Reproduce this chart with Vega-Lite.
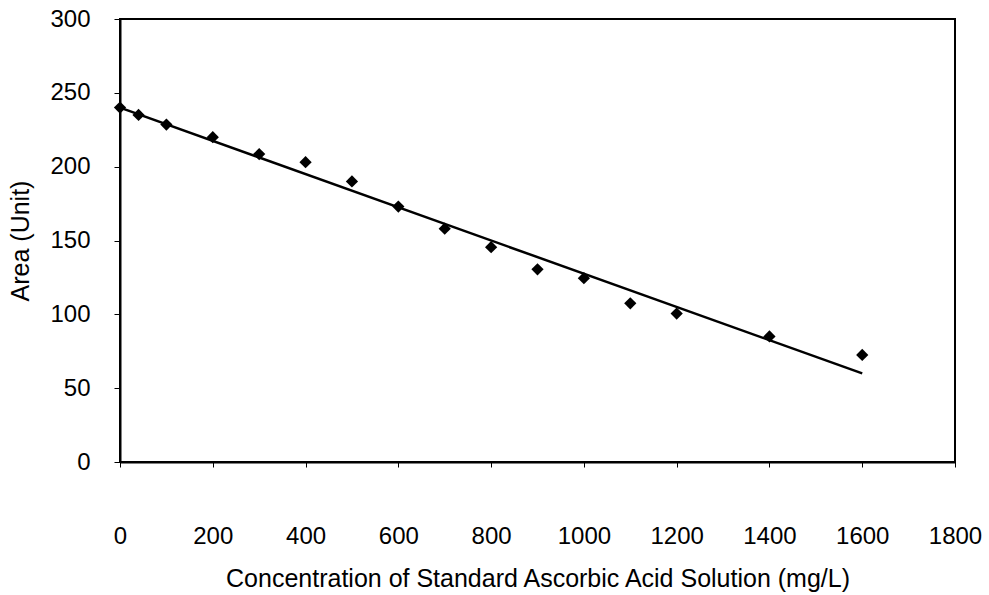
{
  "$schema": "https://vega.github.io/schema/vega-lite/v6.json",
  "autosize": "none",
  "width": 835,
  "height": 443,
  "padding": {"left": 120, "top": 19, "right": 34, "bottom": 133},
  "background": "white",
  "config": {
    "view": {"stroke": "black", "strokeWidth": 2},
    "font": "Liberation Sans",
    "axis": {
      "grid": false,
      "domainColor": "black",
      "domainWidth": 2,
      "tickColor": "black",
      "labelColor": "black",
      "titleColor": "black",
      "labelFont": "Liberation Sans",
      "titleFont": "Liberation Sans",
      "titleFontWeight": "normal",
      "labelFontSize": 24,
      "titleFontSize": 25
    }
  },
  "datasets": {
    "points": [
      {"conc": 0, "area": 240},
      {"conc": 40, "area": 235},
      {"conc": 100, "area": 228.5},
      {"conc": 200, "area": 220},
      {"conc": 300, "area": 208.5},
      {"conc": 400, "area": 203},
      {"conc": 500, "area": 190},
      {"conc": 600, "area": 173},
      {"conc": 700, "area": 158},
      {"conc": 800, "area": 145.5},
      {"conc": 900, "area": 130.5},
      {"conc": 1000, "area": 124.5},
      {"conc": 1100, "area": 107.5},
      {"conc": 1200, "area": 100.5},
      {"conc": 1400, "area": 85},
      {"conc": 1600, "area": 72.5}
    ],
    "fit": [
      {"conc": 0, "area": 240},
      {"conc": 1600, "area": 60}
    ]
  },
  "layer": [
    {
      "data": {"name": "fit"},
      "mark": {"type": "line", "color": "black", "strokeWidth": 2.5},
      "encoding": {
        "x": {"field": "conc", "type": "quantitative", "scale": {"domain": [0, 1800], "nice": false}},
        "y": {"field": "area", "type": "quantitative", "scale": {"domain": [0, 300], "nice": false}}
      }
    },
    {
      "data": {"name": "points"},
      "mark": {"type": "point", "shape": "diamond", "filled": true, "color": "black", "opacity": 1, "size": 150},
      "encoding": {
        "x": {
          "field": "conc", "type": "quantitative",
          "scale": {"domain": [0, 1800], "nice": false},
          "axis": {
            "title": "Concentration of Standard Ascorbic Acid Solution (mg/L)",
            "values": [0, 200, 400, 600, 800, 1000, 1200, 1400, 1600, 1800],
            "format": "d",
            "tickSize": 5, "labelPadding": 57, "titlePadding": 18,
            "labelFlush": false, "labelOverlap": false
          }
        },
        "y": {
          "field": "area", "type": "quantitative",
          "scale": {"domain": [0, 300], "nice": false},
          "axis": {
            "title": "Area (Unit)",
            "values": [0, 50, 100, 150, 200, 250, 300],
            "format": "d",
            "tickSize": 6, "labelPadding": 24, "titlePadding": 16,
            "labelFlush": false, "labelOverlap": false
          }
        }
      }
    }
  ]
}
